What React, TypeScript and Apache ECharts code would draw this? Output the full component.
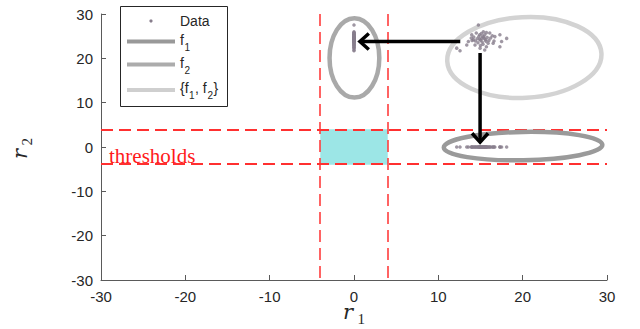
import React, { useEffect, useRef } from "react";
import * as echarts from "echarts";

// ---- data ----
const axisMin = -30;
const axisMax = 30;
const axisStep = 10;

// observed data cloud (r1, r2)
const dataPoints: [number, number][] = [
  [14.75, 27.5], [13.96, 25.3], [14.15, 24.2], [13.56, 23.8], [13.37, 23.0],
  [12.18, 22.3], [12.57, 21.7], [15.34, 26.0], [16.1, 25.7], [16.7, 24.9],
  [17.3, 25.3], [18.1, 24.5], [17.5, 23.8], [17.3, 22.6], [16.5, 23.4],
  [15.7, 22.6], [14.95, 22.3], [14.35, 23.0], [15.5, 21.9], [15.15, 24.5],
  [15.0, 24.1], [15.4, 24.8], [14.8, 24.9], [15.6, 24.2], [14.6, 24.4],
  [15.2, 23.7], [15.8, 24.7], [14.9, 25.3], [15.5, 25.3], [14.4, 23.9],
  [16.0, 24.0], [15.1, 25.6], [14.7, 23.5], [15.9, 23.4], [16.2, 24.6],
  [14.2, 24.8], [15.3, 23.2], [16.4, 25.1], [14.0, 24.0], [15.7, 25.8],
  [14.5, 25.7], [16.6, 23.9], [15.0, 22.9], [13.9, 24.6], [15.45, 24.45],
  [14.9, 24.3], [15.25, 24.95], [15.65, 23.85],
];

// thresholds on r1 and r2
const thresholdR1 = [-4, 4];
const thresholdR2 = [-4, 4];

// ellipses: [centre r1, centre r2, half-width r1, half-height r2, tilt deg]
const ellipses: number[][] = [
  [0.05, 20.1, 2.95, 8.95, 0],
  [20.2, 20.2, 9.15, 9.1, 3],
  [20.05, 0.2, 9.4, 3.2, 1],
];
const ellipseColors = ["#a9a9a9", "#d3d3d3", "#9a9a9a"];

// arrows: [from r1, from r2, to r1, to r2]
const arrows: number[][] = [
  [12.6, 23.8, 0.7, 23.8],
  [14.95, 21.2, 14.95, 1.1],
];

const dataColor = "#877d8c";
const axisColor = "#5a5a5a";
const labelColor = "#262626";
const red = "#ff3030";

export default function App() {
  const ref = useRef<HTMLDivElement>(null);

  useEffect(() => {
    document.body.style.margin = "0";
    if (!ref.current) return;
    const chart = echarts.init(ref.current, undefined, { renderer: "svg" });

    const projF1 = dataPoints.map((p) => [0, p[1]]);
    const projF2 = dataPoints.map((p) => [p[0], 0]);

    const axisCommon = {
      type: "value" as const,
      min: axisMin,
      max: axisMax,
      interval: axisStep,
      splitLine: { show: false },
      axisLine: { onZero: false, lineStyle: { color: axisColor, width: 1 } },
      axisTick: { inside: true, length: 5, lineStyle: { color: axisColor } },
      axisLabel: {
        color: labelColor,
        fontSize: 15,
        fontFamily: "Liberation Sans",
      },
    };

    const sans = "Liberation Sans";
    const txt = (
      text: string,
      x: number,
      y: number,
      size: number,
      extra: any = {}
    ) => ({
      type: "text",
      x,
      y,
      z: 100,
      style: {
        text,
        fontSize: size,
        fontFamily: sans,
        fill: labelColor,
        align: "left",
        verticalAlign: "middle",
        textAlign: "left",
        textVerticalAlign: "middle",
        ...extra,
      },
    });

    const legendLine = (y: number, color: string) => ({
      type: "line",
      z: 100,
      shape: { x1: 127, y1: y, x2: 175, y2: y },
      style: { stroke: color, lineWidth: 4 },
    });

    chart.setOption({
      animation: false,
      grid: { left: 101, right: 33, top: 14, bottom: 49 },
      xAxis: { ...axisCommon, axisLabel: { ...axisCommon.axisLabel, margin: 9 } },
      yAxis: { ...axisCommon, axisLabel: { ...axisCommon.axisLabel, margin: 8 } },
      series: [
        {
          type: "scatter",
          data: [],
          z: 1,
          silent: true,
          markArea: {
            silent: true,
            itemStyle: { color: "#9ce6e6", opacity: 1 },
            data: [
              [
                { xAxis: thresholdR1[0], yAxis: thresholdR2[1] },
                { xAxis: thresholdR1[1], yAxis: thresholdR2[0] },
              ],
            ],
          },
        },
        {
          type: "custom",
          z: 2,
          silent: true,
          clip: false,
          data: thresholdR1.map((v) => [v, 0]),
          renderItem: (params: any, api: any) => {
            const cs = params.coordSys;
            const x = Math.round(api.coord([api.value(0), 0])[0]);
            return {
              type: "line",
              shape: { x1: x, y1: cs.y, x2: x, y2: cs.y + cs.height },
              style: { stroke: red, lineWidth: 1.5, lineDash: [12, 6], fill: "none" },
            };
          },
        },
        {
          type: "custom",
          z: 2,
          silent: true,
          clip: false,
          data: thresholdR2.map((v) => [0, v]),
          renderItem: (params: any, api: any) => {
            const cs = params.coordSys;
            const y = Math.round(api.coord([0, api.value(1)])[1] / 2) * 2;
            return {
              type: "line",
              shape: { x1: cs.x, y1: y, x2: cs.x + cs.width, y2: y },
              style: { stroke: red, lineWidth: 1.8, lineDash: [12, 6], fill: "none" },
            };
          },
        },
        {
          type: "custom",
          z: 3,
          silent: true,
          data: ellipses,
          renderItem: (params: any, api: any) => {
            const c = api.coord([api.value(0), api.value(1)]);
            const s = api.size([api.value(2), api.value(3)]);
            return {
              type: "ellipse",
              x: c[0],
              y: c[1],
              rotation: (api.value(4) * Math.PI) / 180,
              shape: { cx: 0, cy: 0, rx: s[0], ry: s[1] },
              style: {
                fill: "none",
                stroke: ellipseColors[params.dataIndex],
                lineWidth: 4.5,
              },
            };
          },
        },
        {
          type: "scatter",
          name: "Data",
          z: 4,
          symbol: "circle",
          symbolSize: 3.5,
          itemStyle: { color: dataColor },
          data: dataPoints,
        },
        {
          type: "scatter",
          z: 4,
          symbol: "circle",
          symbolSize: 3.5,
          itemStyle: { color: dataColor },
          data: projF1,
        },
        {
          type: "scatter",
          z: 4,
          symbol: "circle",
          symbolSize: 3.5,
          itemStyle: { color: dataColor },
          data: projF2,
        },
        {
          type: "custom",
          z: 5,
          silent: true,
          data: arrows,
          renderItem: (params: any, api: any) => {
            const p0 = api.coord([api.value(0), api.value(1)]);
            const p1 = api.coord([api.value(2), api.value(3)]);
            const dx = p1[0] - p0[0];
            const dy = p1[1] - p0[1];
            const L = Math.hypot(dx, dy) || 1;
            const ux = dx / L;
            const uy = dy / L;
            const head = 12;
            const ang = (42 * Math.PI) / 180;
            const bx = -ux;
            const by = -uy;
            const r = (a: number) => [
              p1[0] + head * (bx * Math.cos(a) - by * Math.sin(a)),
              p1[1] + head * (bx * Math.sin(a) + by * Math.cos(a)),
            ];
            return {
              type: "group",
              children: [
                {
                  type: "line",
                  shape: { x1: p0[0], y1: p0[1], x2: p1[0] - ux, y2: p1[1] - uy },
                  style: { stroke: "#000", lineWidth: 3.5 },
                },
                {
                  type: "polyline",
                  shape: { points: [r(ang), [p1[0], p1[1]], r(-ang)] },
                  style: { stroke: "#000", lineWidth: 3.5, fill: "none" },
                },
              ],
            };
          },
        },
      ],
      graphic: [
        // legend box
        {
          type: "rect",
          z: 99,
          shape: { x: 120.5, y: 6.5, width: 107, height: 100 },
          style: { fill: "#fff", stroke: "#262626", lineWidth: 1 },
        },
        {
          type: "circle",
          z: 100,
          shape: { cx: 151, cy: 21, r: 1.6 },
          style: { fill: dataColor },
        },
        txt("Data", 180, 21, 14),
        legendLine(41.5, "#999999"),
        txt("f", 180, 39.5, 14),
        txt("1", 184.5, 47, 10),
        legendLine(64.5, "#acacac"),
        txt("f", 180, 62.5, 14),
        txt("2", 184.5, 70, 10),
        legendLine(90, "#cfcfcf"),
        txt("{f", 180, 87.5, 14),
        txt("1", 189, 95, 10),
        txt(", f", 195, 87.5, 14),
        txt("2", 207.5, 95, 10),
        txt("}", 213.5, 87.5, 14),
        // thresholds label
        {
          type: "text",
          x: 109,
          y: 156,
          z: 100,
          style: {
            text: "thresholds",
            fontSize: 21,
            fontFamily: "Liberation Serif",
            fill: "#ff1a1a",
            align: "left",
            verticalAlign: "middle",
            textAlign: "left",
            textVerticalAlign: "middle",
          },
        },
        // x axis title r1
        txt("r", 343, 311.5, 21, {
          fontFamily: "DejaVu Serif",
          fontStyle: "italic",
          lineHeight: 13,
        }),
        txt("1", 357.5, 318.5, 15, { fontFamily: "Liberation Serif", lineHeight: 12 }),
        // y axis title r2 (rotated)
        {
          type: "group",
          x: 27,
          y: 151,
          rotation: Math.PI / 2,
          children: [
            txt("r", -8, -7.5, 21, {
              fontFamily: "DejaVu Serif",
              fontStyle: "italic",
            }),
            txt("2", 5.5, 0, 15, { fontFamily: "Liberation Serif" }),
          ],
        },
      ],
    });

    return () => chart.dispose();
  }, []);

  return <div ref={ref} style={{ width: 640, height: 329 }} />;
}
